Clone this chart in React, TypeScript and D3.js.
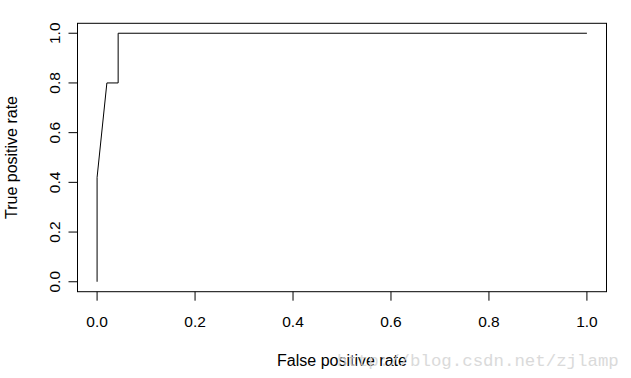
import React from "react";
import * as d3 from "d3";

const fpr = [0, 0, 0.02, 0.043, 0.043, 1];
const tpr = [0, 0.42, 0.8, 0.8, 1, 1];
const xTicks = [0, 0.2, 0.4, 0.6, 0.8, 1.0];
const yTicks = [0, 0.2, 0.4, 0.6, 0.8, 1.0];

const W = 631, H = 378;
const L = 77.5, R = 606.5, T = 23.3, B = 291.7;

export default function App() {
  const x = d3.scaleLinear().domain([-0.04, 1.04]).range([L, R]);
  const y = d3.scaleLinear().domain([-0.04, 1.04]).range([B, T]);
  const pts = fpr.map((f, i) => [f, tpr[i]] as [number, number]);
  const line = d3.line<[number, number]>().x(d => x(d[0])).y(d => y(d[1]));
  const font = "'Liberation Sans', Arial, sans-serif";
  return (
    <svg width={W} height={H} style={{ position: "absolute", left: 0, top: 0, background: "#fff" }}>
      <rect x={0} y={0} width={W} height={H} fill="#fff" />
      <rect x={L} y={T} width={R - L} height={B - T} fill="none" stroke="#000" strokeWidth={1} />
      <path d={line(pts) || ""} fill="none" stroke="#000" strokeWidth={1} />
      {xTicks.map(t => (
        <g key={"x" + t}>
          <line x1={x(t)} x2={x(t)} y1={B} y2={B + 9} stroke="#000" />
          <text x={x(t)} y={327} textAnchor="middle" fontFamily={font} fontSize={15.5} fill="#000">{t.toFixed(1)}</text>
        </g>
      ))}
      {yTicks.map(t => (
        <g key={"y" + t}>
          <line x1={L - 9} x2={L} y1={y(t)} y2={y(t)} stroke="#000" />
          <text transform={`translate(59.5,${y(t)}) rotate(-90)`} textAnchor="middle" fontFamily={font} fontSize={15.5} fill="#000">{t.toFixed(1)}</text>
        </g>
      ))}
      <text x={(L + R) / 2} y={366} textAnchor="middle" fontFamily={font} fontSize={16} fill="#000">False positive rate</text>
      <text transform={`translate(17,${(T + B) / 2}) rotate(-90)`} textAnchor="middle" fontFamily={font} fontSize={16} fill="#000">True positive rate</text>
      <text x={337} y={366} fontFamily="'Liberation Mono', monospace" fontSize={17.4} fill="#d4d4d4" opacity={0.85}>http://blog.csdn.net/zjlamp</text>
    </svg>
  );
}
